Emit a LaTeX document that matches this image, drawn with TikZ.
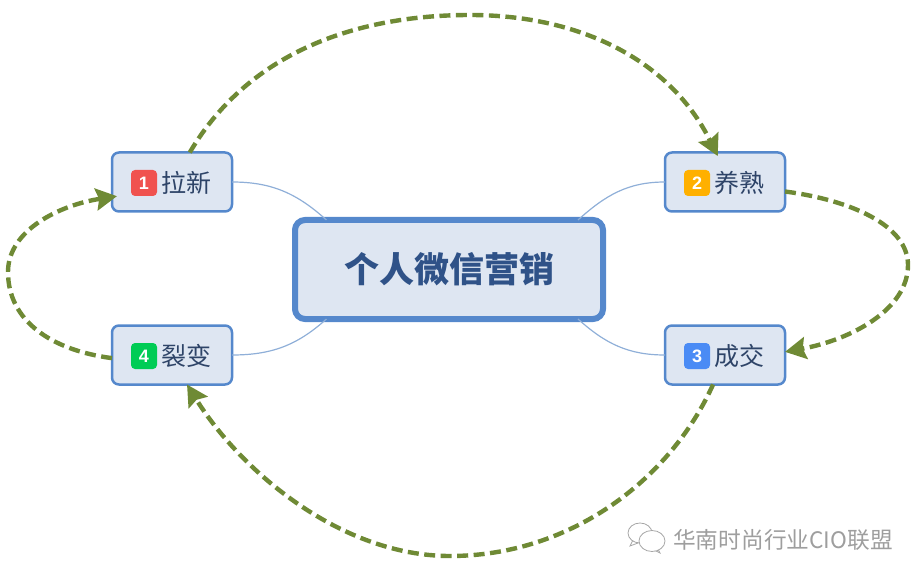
\documentclass[tikz,border=0pt]{standalone}
\usepackage{fontspec}
\newfontfamily\cjk{Noto Sans CJK SC}
\newfontfamily\digits{Liberation Sans}
\usetikzlibrary{arrows.meta,positioning}
\definecolor{boxfill}{HTML}{DEE6F2}
\definecolor{boxline}{HTML}{5588CC}
\definecolor{twig}{HTML}{8FAFD8}
\definecolor{olive}{HTML}{6F8A35}
\definecolor{maintext}{HTML}{2F5288}
\definecolor{leaftext}{HTML}{2E4468}
\definecolor{markone}{HTML}{F0524F}
\definecolor{marktwo}{HTML}{FFB000}
\definecolor{markthree}{HTML}{4A8BF5}
\definecolor{markfour}{HTML}{00CC55}
\tikzset{
  mainbox/.style={draw=boxline,fill=boxfill,line width=6pt,rounded corners=10pt,minimum width=308pt,minimum height=99pt,outer sep=0pt,text=maintext,font=\cjk\bfseries\fontsize{35}{40}\selectfont},
  leafbox/.style={draw=boxline,fill=boxfill,line width=2.5pt,rounded corners=7pt,minimum width=120pt,minimum height=59pt,outer sep=0pt},
  badge/.style={fill=#1,rounded corners=4pt,minimum size=26pt,inner sep=0pt,text=white,font=\digits\bfseries\fontsize{18}{20}\selectfont},
  leaflabel/.style={right=4pt of #1,inner sep=0pt,text=leaftext,font=\cjk\fontsize{25}{28}\selectfont},
  twigline/.style={draw=twig,line width=1.2pt},
  flow/.style={draw=olive,line width=4.4pt,dash pattern=on 11pt off 5.5pt,-{Stealth[length=21pt,width=22pt,inset=3pt,fill=olive]}},
  watermark/.style={text=black!38,font=\cjk\fontsize{22.7}{26}\selectfont},
  chat/.style={draw=black!35,line width=0.8pt,fill=white}
}
\begin{document}
\begin{tikzpicture}[x=1pt,y=-1pt]
   \useasboundingbox (0,0) rectangle (924,580);
   % boxes
   \node [mainbox] (main) at (449,269.5) {个人微信营销};
   \node [leafbox] (laxin) at (172,182) {};
   \node [leafbox] (yangshu) at (725,182) {};
   \node [leafbox] (chengjiao) at (725,355) {};
   \node [leafbox] (liebian) at (172,355) {};
   % badges and labels
   \node [badge=markone] (bone) at (144,183) {1};
   \node [leaflabel=bone] (lone) {拉新};
   \node [badge=marktwo] (btwo) at (697,183) {2};
   \node [leaflabel=btwo] (ltwo) {养熟};
   \node [badge=markthree] (bthree) at (697,356) {3};
   \node [leaflabel=bthree] (lthree) {成交};
   \node [badge=markfour] (bfour) at (144,356) {4};
   \node [leaflabel=bfour] (lfour) {裂变};
   % thin branches
   \draw [twigline] (laxin.east) to [out=0,in=138] (main.158);
   \draw [twigline] (yangshu.west) to [out=180,in=42] (main.21.5);
   \draw [twigline] (chengjiao.west) to [out=180,in=-42] (main.-21.5);
   \draw [twigline] (liebian.east) to [out=0,in=-138] (main.202);
   % dashed cycle
   \draw [flow,shorten >=-4pt] (laxin.59) .. controls (250,50) and (360,15) .. (470,15) .. controls (580,15) and (670,60) .. (yangshu.107);
   \draw [flow] (yangshu.-9) .. controls (850,200) and (908,225) .. (908,265) .. controls (908,310) and (850,340) .. (chengjiao.3);
   \draw [flow] (chengjiao.248) .. controls (670,480) and (570,556) .. (450,556) .. controls (340,556) and (240,470) .. (liebian.-63);
   \draw [flow,shorten >=-5pt] (liebian.183) .. controls (50,350) and (8,320) .. (8,272) .. controls (8,230) and (60,205) .. (laxin.194);
   % watermark
   \draw [chat] (630,546) -- (633,540) -- (638,543) -- cycle;
   \draw [chat] (640,533) ellipse [x radius=12,y radius=10];
   \draw [chat] (660,553) -- (657,547) -- (652,549) -- cycle;
   \draw [chat] (652,541) ellipse [x radius=13,y radius=10.5];
   \node [watermark,anchor=west,inner sep=0pt] (mark) at (673,540) {华南时尚行业CIO联盟};
\end{tikzpicture}
\end{document}
